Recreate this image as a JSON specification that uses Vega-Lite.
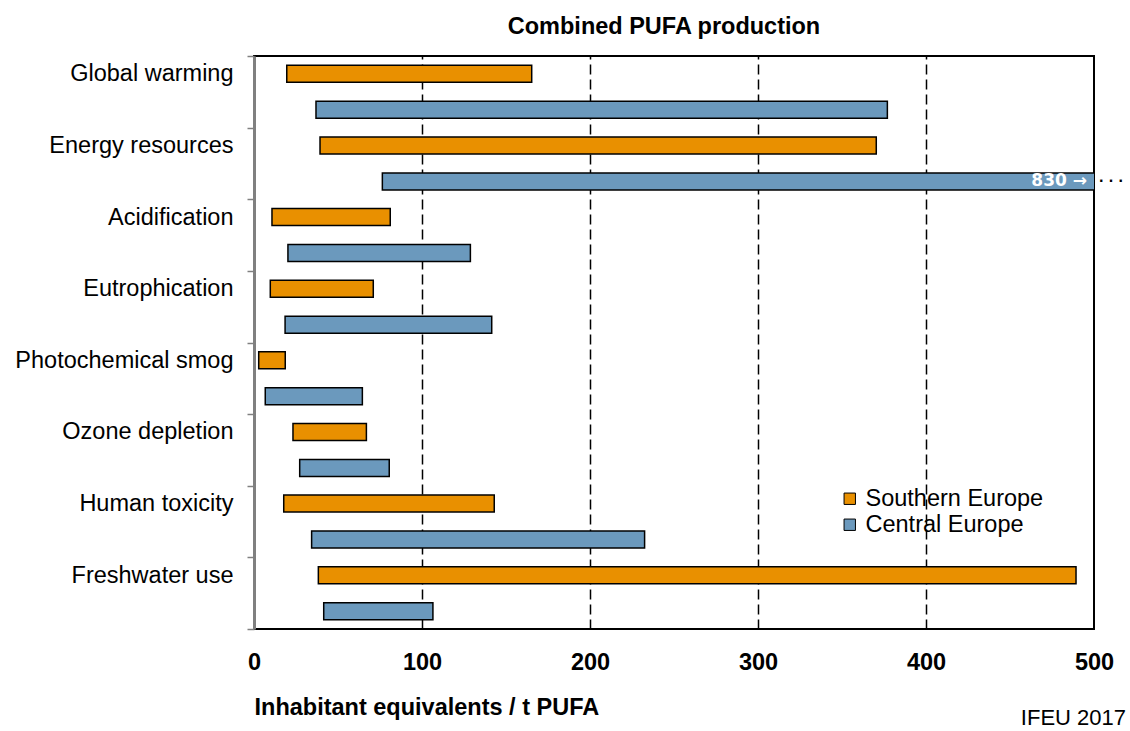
{
  "$schema": "https://vega.github.io/schema/vega-lite/v6.json",
  "width": 840,
  "height": 573,
  "autosize": "none",
  "padding": {"left": 254, "top": 56, "right": 36, "bottom": 102},
  "background": "white",
  "config": {
    "font": "Liberation Sans",
    "view": {"stroke": "black", "strokeWidth": 2}
  },
  "title": {
    "text": "Combined PUFA production",
    "font": "Liberation Sans",
    "fontSize": 23.5,
    "fontWeight": "bold",
    "color": "black",
    "anchor": "middle",
    "dx": -10,
    "offset": 6
  },
  "datasets": {
    "bars": [
      {"category": "Global warming", "region": "Southern Europe", "start": 19.5, "end": 165.3},
      {"category": "Global warming", "region": "Central Europe", "start": 36.9, "end": 377},
      {"category": "Energy resources", "region": "Southern Europe", "start": 39.3, "end": 370.4},
      {"category": "Energy resources", "region": "Central Europe", "start": 76.4, "end": 830},
      {"category": "Acidification", "region": "Southern Europe", "start": 10.7, "end": 81.1},
      {"category": "Acidification", "region": "Central Europe", "start": 20.2, "end": 128.8},
      {"category": "Eutrophication", "region": "Southern Europe", "start": 9.7, "end": 71},
      {"category": "Eutrophication", "region": "Central Europe", "start": 18.5, "end": 141.5},
      {"category": "Photochemical smog", "region": "Southern Europe", "start": 2.8, "end": 18.6},
      {"category": "Photochemical smog", "region": "Central Europe", "start": 6.7, "end": 64.5},
      {"category": "Ozone depletion", "region": "Southern Europe", "start": 23.2, "end": 66.9},
      {"category": "Ozone depletion", "region": "Central Europe", "start": 27.2, "end": 80.5},
      {"category": "Human toxicity", "region": "Southern Europe", "start": 17.7, "end": 143},
      {"category": "Human toxicity", "region": "Central Europe", "start": 34.3, "end": 232.5},
      {"category": "Freshwater use", "region": "Southern Europe", "start": 38.3, "end": 489.3},
      {"category": "Freshwater use", "region": "Central Europe", "start": 41.5, "end": 106.5}
    ],
    "notes": [
      {"category": "Energy resources", "region": "Central Europe", "x": 500, "label": "830 →"}
    ],
    "dots": [
      {"category": "Energy resources", "region": "Central Europe", "x": 500, "label": "· · ·"}
    ],
    "source": [
      {"category": "Freshwater use", "region": "Central Europe", "x": 500, "label": "IFEU 2017"}
    ]
  },
  "encoding": {
    "y": {
      "field": "category",
      "type": "nominal",
      "sort": ["Global warming", "Energy resources", "Acidification", "Eutrophication", "Photochemical smog", "Ozone depletion", "Human toxicity", "Freshwater use"],
      "scale": {"paddingInner": 0, "paddingOuter": 0},
      "axis": {
        "title": null,
        "labelFontSize": 23.5,
        "labelColor": "black",
        "labelOffset": -18,
        "labelPadding": 14,
        "labelLimit": 300,
        "tickBand": "extent",
        "tickColor": "#808080",
        "tickSize": 7,
        "tickWidth": 1.5,
        "domainColor": "#808080",
        "domainWidth": 3,
        "zindex": 1
      }
    },
    "yOffset": {
      "field": "region",
      "type": "nominal",
      "sort": ["Southern Europe", "Central Europe"],
      "scale": {"paddingInner": 0.53, "paddingOuter": 0.26}
    }
  },
  "layer": [
    {
      "data": {"name": "bars"},
      "mark": {"type": "bar", "stroke": "black", "strokeWidth": 1.5, "clip": true},
      "encoding": {
        "x": {
          "field": "start",
          "type": "quantitative",
          "scale": {"domain": [0, 500], "nice": false},
          "axis": {
            "title": "Inhabitant equivalents / t PUFA",
            "titleFontSize": 23.5,
            "titleFontWeight": "bold",
            "titleColor": "black",
            "titleAnchor": "start",
            "titlePadding": 22,
            "values": [0, 100, 200, 300, 400, 500],
            "labelFontSize": 23.5,
            "labelFontWeight": "bold",
            "labelColor": "black",
            "labelPadding": 21,
            "labelFlush": false,
            "ticks": false,
            "domain": false,
            "grid": true,
            "gridDash": [10, 5],
            "gridWidth": 1.5,
            "gridColor": {
              "condition": {"test": "datum.value === 0 || datum.value === 500", "value": "transparent"},
              "value": "black"
            }
          }
        },
        "x2": {"field": "end"},
        "color": {
          "field": "region",
          "type": "nominal",
          "scale": {"domain": ["Southern Europe", "Central Europe"], "range": ["#E99000", "#6B99BD"]},
          "legend": {
            "title": null,
            "orient": "none",
            "legendX": 584,
            "legendY": 431,
            "symbolType": "square",
            "symbolSize": 130,
            "symbolStrokeColor": "black",
            "symbolStrokeWidth": 1,
            "symbolOpacity": 1,
            "labelFontSize": 23.5,
            "labelColor": "black",
            "labelOffset": 4,
            "rowPadding": 1,
            "labelLimit": 400
          }
        }
      }
    },
    {
      "data": {"name": "notes"},
      "mark": {"type": "text", "align": "right", "baseline": "middle", "dx": -7, "font": "DejaVu Sans", "fontSize": 17, "fontWeight": "bold", "color": "white"},
      "encoding": {
        "x": {"field": "x", "type": "quantitative"},
        "text": {"field": "label"}
      }
    },
    {
      "data": {"name": "dots"},
      "mark": {"type": "text", "align": "left", "baseline": "middle", "dx": 5, "fontSize": 16, "fontWeight": "bold", "color": "black"},
      "encoding": {
        "x": {"field": "x", "type": "quantitative"},
        "text": {"field": "label"}
      }
    },
    {
      "data": {"name": "source"},
      "mark": {"type": "text", "align": "right", "baseline": "middle", "dx": 32, "dy": 107, "fontSize": 22, "color": "black"},
      "encoding": {
        "x": {"field": "x", "type": "quantitative"},
        "text": {"field": "label"}
      }
    }
  ]
}
